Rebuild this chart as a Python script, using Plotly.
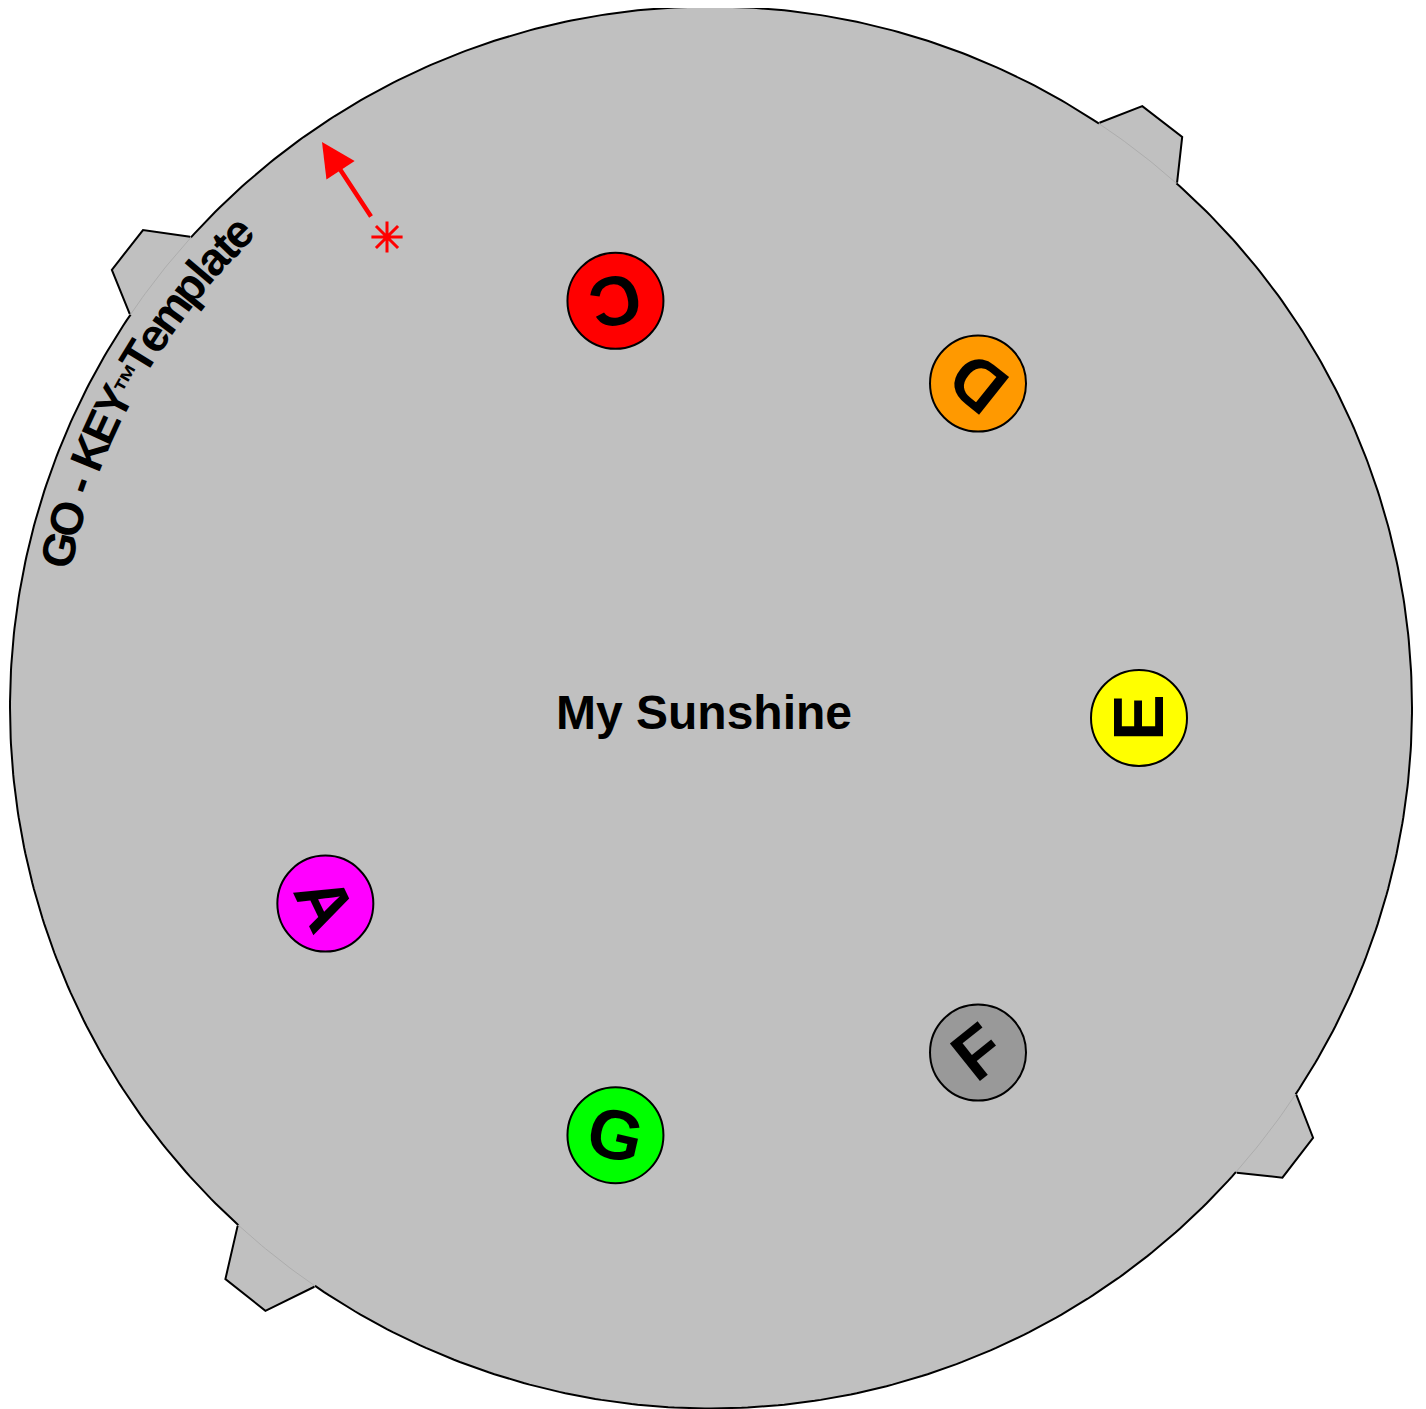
import numpy as np
import plotly.graph_objects as go

# ---------------- data ----------------
W, H = 1426, 1409
PAGE_OFFSET = 8          # default body margin of the page
plate_center = [711, 707.5]
plate_radius = 701
ring_center = [711, 718]
ring_radius = 428

notes = ["C", "D", "E", "F", "G", "A"]
note_angles = [102.9, 51.4, 0.0, -51.4, -102.9, -154.3]   # degrees, math convention
note_colors = ["#ff0000", "#ff9900", "#ffff00", "#999999", "#00ff00", "#ff00ff"]

tab_angles = [52.4, 141.9, -128.4, -37.5]
tab_outer_r = [740, 742, 750, 740]

title_text = "My Sunshine"
brand_parts = ["GO - KEY", "™", "Template"]
brand_sizes = [46, 32, 46]
brand_start_angle = 166.4
brand_end_angle = 134.9
brand_radius = 671

arrow_tip = [322, 142]
arrow_tail = [372, 218]
star_pos = [387, 237]

# ---------------- helpers ----------------
def pol(cx, cy, r, deg):
    t = np.radians(deg)
    return cx + r * np.cos(t), cy - r * np.sin(t)

fig = go.Figure()
CX, CY = plate_center
GRAY = "#c0c0c0"

# plate
th = np.linspace(0, 360, 721)
px, py = pol(CX, CY, plate_radius, th)
fig.add_trace(go.Scatter(x=px, y=py, mode="lines", fill="toself", fillcolor=GRAY,
                         line=dict(color="black", width=2), hoverinfo="skip"))

# tabs
for a, ro in zip(tab_angles, tab_outer_r):
    ang = [a + 4, a + 1.95, a - 1.95, a - 4]
    rad = [plate_radius + 1, ro, ro, plate_radius + 1]
    ox, oy = pol(CX, CY, np.array(rad), np.array(ang))
    back = np.linspace(a - 4, a + 4, 20)
    ix, iy = pol(CX, CY, plate_radius - 6, back)
    fig.add_trace(go.Scatter(x=np.concatenate([ox, ix]), y=np.concatenate([oy, iy]),
                             mode="lines", fill="toself", fillcolor=GRAY,
                             line=dict(width=0, color=GRAY), hoverinfo="skip"))
    bx, by = pol(CX, CY, plate_radius, np.linspace(a - 4, a + 4, 20))
    fig.add_trace(go.Scatter(x=bx, y=by, mode="lines",
                             line=dict(color="#adadad", width=1), hoverinfo="skip"))
    fig.add_trace(go.Scatter(x=ox, y=oy, mode="lines",
                             line=dict(color="black", width=2), hoverinfo="skip"))

# note circles
nx, ny = pol(ring_center[0], ring_center[1], ring_radius, np.array(note_angles))
fig.add_trace(go.Scatter(x=nx, y=ny, mode="markers",
                         marker=dict(size=96, color=note_colors,
                                     line=dict(color="black", width=2)),
                         hoverinfo="skip"))

annotations = []
for n, a, x, y in zip(notes, note_angles, nx, ny):
    annotations.append(dict(x=x, y=y, xref="x", yref="y", text=n, showarrow=False,
                            textangle=-(a + 90),
                            font=dict(family="Liberation Sans", size=70, color="black",
                                      weight="bold")))

# title
annotations.append(dict(x=704, y=712, xref="x", yref="y", text=title_text, showarrow=False,
                        font=dict(family="Liberation Sans", size=48, color="black",
                                  weight="bold")))

# curved brand text
widths = {'G': .778, 'O': .778, ' ': .278, '-': .333, 'K': .722, 'E': .667, 'Y': .667,
          'T': .611, 'e': .556, 'm': .889, 'p': .611, 'l': .278, 'a': .556, 't': .333,
          '™': 0.8}
chars = []
cum = 0.0
for part, sz in zip(brand_parts, brand_sizes):
    for ch in part:
        w = widths[ch] * sz
        chars.append((ch, sz, cum + w / 2))
        cum += w
p0, p1 = chars[0][2], chars[-1][2]
for ch, sz, pos in chars:
    if ch == " ":
        continue
    phi = brand_start_angle + (pos - p0) / (p1 - p0) * (brand_end_angle - brand_start_angle)
    r = brand_radius if sz > 40 else brand_radius - 4
    x, y = pol(CX, CY, r, phi)
    annotations.append(dict(x=x, y=y, xref="x", yref="y", text=ch, showarrow=False,
                            textangle=90 - phi,
                            font=dict(family="Liberation Sans", size=sz, color="black",
                                      weight="bold")))

# arrow
annotations.append(dict(x=arrow_tip[0], y=arrow_tip[1], ax=arrow_tail[0], ay=arrow_tail[1],
                        xref="x", yref="y", axref="x", ayref="y", text="",
                        showarrow=True, arrowhead=2, arrowsize=1.5, arrowwidth=4.5,
                        arrowcolor="#ff0000"))

fig.add_trace(go.Scatter(x=[star_pos[0]], y=[star_pos[1]], mode="markers",
                         marker=dict(symbol="asterisk-open", size=26, color="#ff0000",
                                     line=dict(color="#ff0000", width=3)),
                         hoverinfo="skip"))

fig.update_layout(width=W, height=H, margin=dict(l=0, r=0, t=0, b=0),
                  paper_bgcolor="white", plot_bgcolor="white", showlegend=False,
                  xaxis=dict(range=[PAGE_OFFSET, W + PAGE_OFFSET], visible=False,
                             fixedrange=True),
                  yaxis=dict(range=[H + PAGE_OFFSET, PAGE_OFFSET], visible=False,
                             fixedrange=True),
                  annotations=annotations)

fig.write_html("out.html")
